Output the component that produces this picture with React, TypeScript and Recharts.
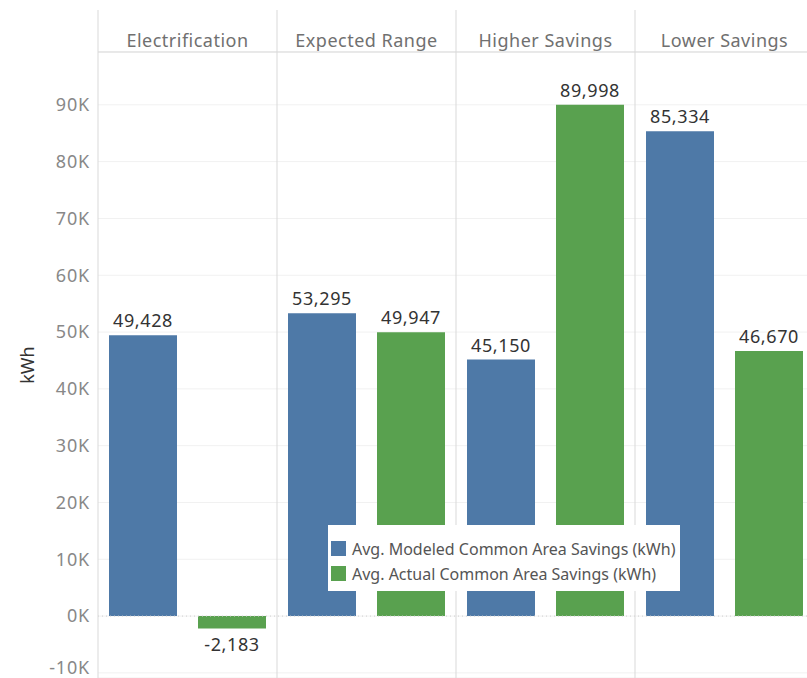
import React from "react";
import { BarChart, Bar, XAxis, YAxis, CartesianGrid, ReferenceLine, LabelList } from "recharts";

const categories: string[] = ["Electrification", "Expected Range", "Higher Savings", "Lower Savings"];
const modeled: number[] = [49428, 53295, 45150, 85334];
const actual: number[] = [-2183, 49947, 89998, 46670];
const yTicks: number[] = [-10000, 0, 10000, 20000, 30000, 40000, 50000, 60000, 70000, 80000, 90000];
const legendNames: string[] = ["Avg. Modeled Common Area Savings (kWh)", "Avg. Actual Common Area Savings (kWh)"];

const BLUE = "#4e79a7";
const GREEN = "#59a14f";
const FONT = "'Noto Sans', 'Open Sans', sans-serif";

const CHART_W = 814;
const CHART_H = 678;
const Y_AXIS_W = 98;
const TOP = 10;
const HEADER_H = 42;
const PANE_W = (CHART_W - Y_AXIS_W) / categories.length;

const data = categories.map((c, i) => ({ name: c, modeled: modeled[i], actual: actual[i] }));

const fmt = (v: number): string => v.toLocaleString("en-US");

const HeaderTick = (props: any) => {
  const { x, payload, index } = props;
  const left = x - PANE_W / 2;
  return (
    <g>
      <line x1={left} x2={left} y1={TOP} y2={CHART_H} stroke="#d9d9d9" strokeWidth={1} />
      {index === categories.length - 1 && (
        <line x1={left + PANE_W} x2={left + PANE_W} y1={TOP} y2={CHART_H} stroke="#d9d9d9" />
      )}
      <text x={x} y={TOP + HEADER_H - 5} textAnchor="middle" fill="#707070" fontSize={18}
        letterSpacing={0.5} fontFamily={FONT}>
        {payload.value}
      </text>
    </g>
  );
};

// keeps the lowest label inside the picture, as Tableau does
const YTick = (props: any) => {
  const { payload, y } = props;
  const ty = Math.min(y, CHART_H - 10);
  return (
    <text x={Y_AXIS_W - 8} y={ty} dy="0.355em" textAnchor="end" fill="#888" fontSize={18} letterSpacing={0.8}
      fontFamily={FONT}>
      {`${payload.value / 1000}K`}
    </text>
  );
};

const BarLabel = (props: any) => {
  const { x, y, width, value } = props;
  const neg = Number(value) < 0;
  const ty = neg ? y + 23 : y - 8;
  return (
    <text x={x + width / 2} y={ty} textAnchor="middle" fill="#333" fontSize={18} letterSpacing={0.6}
      fontFamily={FONT}>
      {fmt(Number(value))}
    </text>
  );
};

const App: React.FC = () => {
  return (
    <div style={{ position: "absolute", left: 0, top: 0, width: 807, height: 678, overflow: "hidden", background: "#fff" }}>
      <BarChart
        width={CHART_W}
        height={CHART_H}
        data={data}
        margin={{ top: TOP, right: 0, left: 0, bottom: 0 }}
        barSize={68}
        barGap={21}
      >
        <CartesianGrid horizontal={true} vertical={false} stroke="#f1f1f1" />
        <XAxis
          dataKey="name"
          orientation="top"
          height={HEADER_H}
          axisLine={{ stroke: "#d9d9d9" }}
          tickLine={false}
          tick={<HeaderTick />}
          interval={0}
        />
        <YAxis
          width={Y_AXIS_W}
          domain={[-10900, 99300]}
          ticks={yTicks}
          interval={0}
          allowDataOverflow
          axisLine={false}
          tickLine={false}
          tick={<YTick />}
          label={{
            value: "kWh",
            angle: -90,
            position: "insideLeft",
            offset: 28,
            style: { textAnchor: "middle", fill: "#333", fontSize: 18, fontFamily: FONT },
          }}
        />
        <ReferenceLine y={0} stroke="#cfcfcf" strokeDasharray="1 3" />
        <Bar dataKey="modeled" fill={BLUE} isAnimationActive={false}>
          <LabelList dataKey="modeled" content={<BarLabel />} />
        </Bar>
        <Bar dataKey="actual" fill={GREEN} isAnimationActive={false}>
          <LabelList dataKey="actual" content={<BarLabel />} />
        </Bar>
      </BarChart>
      <div
        style={{
          position: "absolute",
          left: 328,
          top: 525,
          width: 352,
          height: 66,
          background: "#fff",
          boxSizing: "border-box",
          padding: "11px 0 0 3px",
          fontFamily: FONT,
          fontSize: 16,
          color: "#555",
        }}
      >
        {legendNames.map((n, i) => (
          <div key={n} style={{ display: "flex", alignItems: "center", height: 25 }}>
            <span style={{ width: 15, height: 15, background: i === 0 ? BLUE : GREEN, marginRight: 6, display: "inline-block" }} />
            <span>{n}</span>
          </div>
        ))}
      </div>
    </div>
  );
};

export default App;
